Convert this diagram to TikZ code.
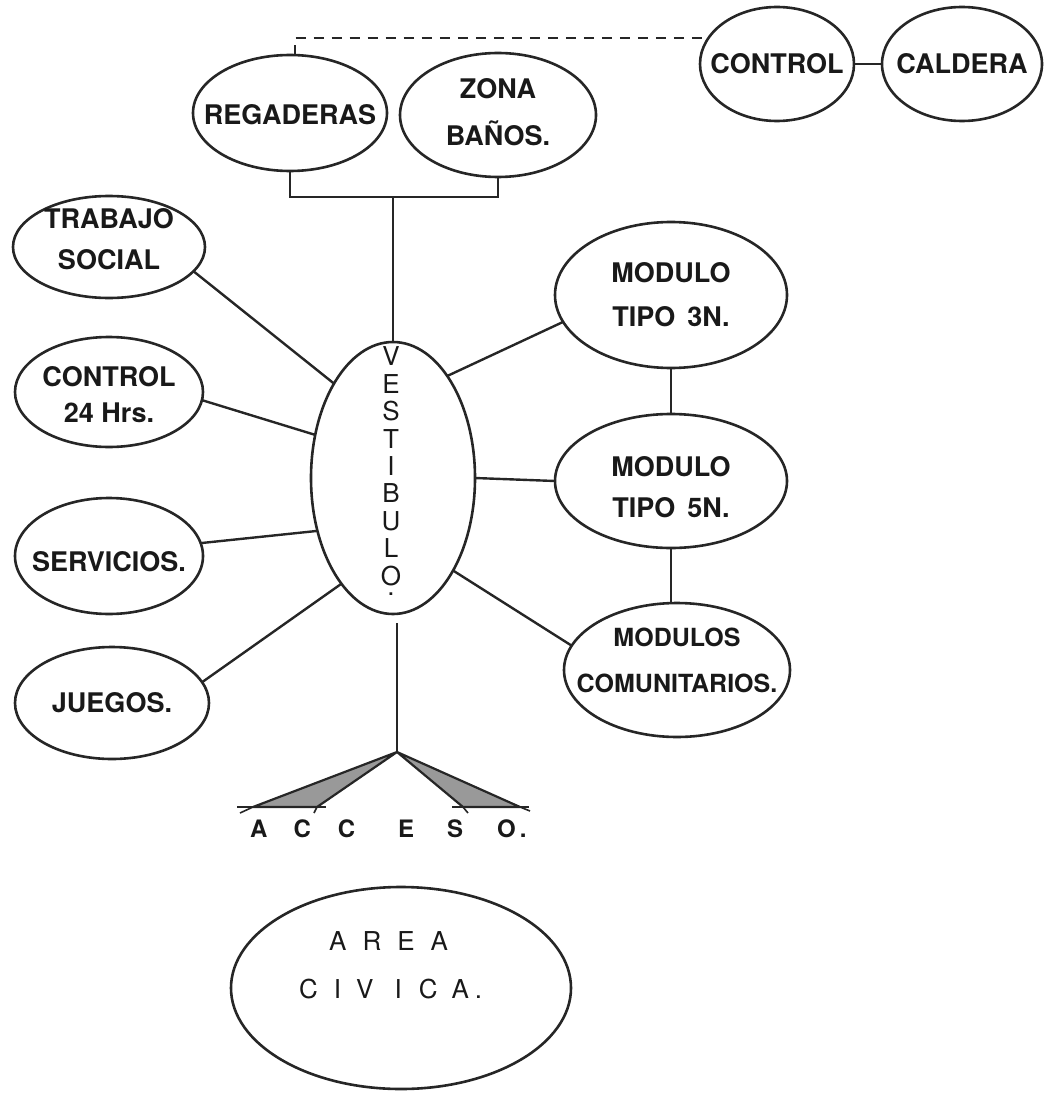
\documentclass[tikz,border=0pt]{standalone}
\usepackage{fontspec}
\setmainfont{TeX Gyre Heros}
\usetikzlibrary{shapes.geometric}
\begin{document}
\begin{tikzpicture}[x=1pt,y=-1pt,
  room/.style={ellipse, draw=black!85, line width=2.6pt, inner sep=0pt, outer sep=0pt},
  dims/.style 2 args={minimum width=#1, minimum height=#2},
  lbl/.style={font=\fontsize{27}{41}\selectfont\bfseries, align=center, text=black!90, inner sep=0pt},
  thin lbl/.style={font=\fontsize{26}{27.4}\selectfont, align=center, text=black!90, inner sep=0pt},
  link/.style={draw=black!85, line width=2.4pt},
]
\useasboundingbox (0,0) rectangle (1044,1094);

% --- top row: showers, toilets, boiler
\node[room, dims={154pt}{114pt}] (ctl) at (777,64) {};
\node[lbl] (ctlt) at (ctl.center) {CONTROL};
\node[room, dims={160pt}{114pt}] (cal) at (962,64) {};
\node[lbl] (calt) at (cal.center) {CALDERA};
\node[room, dims={194pt}{116pt}] (reg) at (290,113) {};
\node[lbl] (regt) at ([yshift=-2pt]reg.center) {REGADERAS};
\node[room, dims={196pt}{124pt}] (zona) at (498,115) {};
\node[lbl] (zonat) at ([yshift=3pt]zona.center) {ZONA\\[6pt]BAÑOS.};

% --- hall
\node[room, dims={164pt}{272pt}] (vest) at (393,478) {};
\node[thin lbl] (vestt) at (391,471)
  {V\\E\\S\\T\\I\\B\\U\\L\\\makebox[0pt]{O}\makebox[0pt]{\raisebox{-10pt}{.}}};

% --- left column
\node[room, dims={192pt}{102pt}] (trab) at (109,247) {};
\node[lbl] (trabt) at ([yshift=8pt]trab.center) {TRABAJO\\SOCIAL};
\node[room, dims={188pt}{110pt}] (c24) at (109,392) {};
\node[lbl] (c24t) at ([yshift=-3pt]c24.center) {CONTROL\\[-5pt]24 Hrs.};
\node[room, dims={188pt}{116pt}] (serv) at (109,556) {};
\node[lbl] (servt) at ([yshift=-6pt]serv.center) {SERVICIOS.};
\node[room, dims={194pt}{112pt}] (jueg) at (112,703) {};
\node[lbl] (juegt) at (jueg.center) {JUEGOS.};

% --- right column
\node[room, dims={232pt}{146pt}] (m3) at (671,295) {};
\node[lbl] (m3t) at (m3.center) {MODULO\\[3pt]TIPO\hspace{12pt}3N.};
\node[room, dims={232pt}{134pt}] (m5) at (671,481) {};
\node[lbl] (m5t) at ([yshift=-6pt]m5.center) {MODULO\\TIPO\hspace{12pt}5N.};
\node[room, dims={226pt}{134pt}] (com) at (677,670) {};
\node[lbl, font=\fontsize{25}{41}\selectfont\bfseries] (comt) at ([yshift=10pt]com.center) {MODULOS\\[5pt]COMUNITARIOS.};

% --- civic area
\node[room, dims={340pt}{202pt}] (civ) at (401,988) {};
\node[thin lbl, anchor=base west] (civa) at (329,950) {A\hspace{16pt}R\hspace{16pt}E\hspace{16pt}A};
\node[thin lbl, anchor=base west] (civb) at (299,998) {C\hspace{16pt}I\hspace{15pt}V\hspace{21pt}I\hspace{17pt}C\hspace{14pt}A\hspace{6pt}.};

% --- connectors
\draw[link] (ctl) -- (cal);
\draw[link, dash pattern=on 10pt off 8pt] (reg.85) |- (ctl.159);
\coordinate (brk) at (393,197);
\draw[link] (reg.south) -- (reg.south |- brk) -- (zona.south |- brk) -- (zona.south);
\draw[link] (brk) -- (vest.north);

\draw[link] (trab.-16) -- (vest.122);
\draw[link] (c24.-5) -- (vest.151);
\draw[link] (serv.8) -- (vest.215);
\draw[link] (jueg.13) -- (vest.244);
\draw[link] (m3.194) -- (vest.62);
\draw[link] (vest.east) -- (m5.west);
\draw[link] (com.167) -- (vest.-57);
\draw[link] (m3.south) -- (m5.north);
\draw[link] (m5.south) -- (m5.south |- com.north);

% --- entrance
\coordinate (apex) at (397,752);
\path (apex |- vest.south) ++(0,9) coordinate (vbot);
\draw[link] (vbot) -- (apex);
\filldraw[fill=black!40, draw=black!85, line width=2.2pt, line join=round] (apex) -- (253,807) -- (317,807) -- cycle;
\filldraw[fill=black!40, draw=black!85, line width=2.2pt, line join=round] (apex) -- (463,807) -- (520,807) -- cycle;
\draw[black!85, line width=1.4pt] (237,807) -- (326,807) (452,807) -- (529,807);
\draw[black!85, line width=1.6pt] (253,807) -- (240,813) (317,807) -- (314,813) (463,807) -- (468,813) (520,807) -- (530,811);
\node[lbl, font=\fontsize{24}{24}\selectfont\bfseries, anchor=base west] (acc) at (250,837)
  {A\hspace{26pt}C\hspace{27pt}C\hspace{43pt}E\hspace{33pt}S\hspace{34pt}O\hspace{4pt}.};
\end{tikzpicture}
\end{document}
